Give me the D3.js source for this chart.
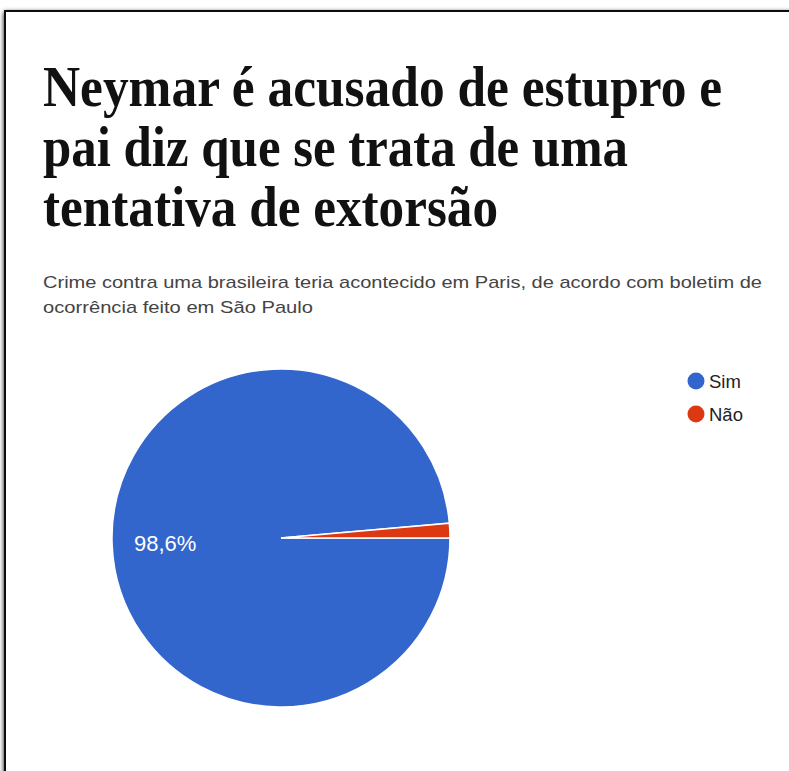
<!DOCTYPE html>
<html>
<head>
<meta charset="utf-8">
<script src="https://cdn.jsdelivr.net/npm/d3@7"></script>
<style>
  body { margin: 0; background: #fff; }
  svg { display: block; }
</style>
</head>
<body>
<div id="chart"></div>
<script>
// Data
const categories = ["Sim", "Não"];
const values = [98.6, 1.4];
const colors = ["#3366cc", "#dc3912"];
const titleLines = ["Neymar é acusado de estupro e", "pai diz que se trata de uma", "tentativa de extorsão"];
const subtitleLines = ["Crime contra uma brasileira teria acontecido em Paris, de acordo com boletim de", "ocorrência feito em São Paulo"];

const width = 789, height = 771;

const svg = d3.select("#chart")
  .append("svg")
  .attr("width", width)
  .attr("height", height);

// shadowed frame around the card
const defs = svg.append("defs");
const shadow = defs.append("filter").attr("id", "shadow")
  .attr("x", "-5%").attr("y", "-5%").attr("width", "110%").attr("height", "110%");
shadow.append("feGaussianBlur").attr("in", "SourceAlpha").attr("stdDeviation", 2.5);
shadow.append("feOffset").attr("dx", 0).attr("dy", 2).attr("result", "blur");
const merge = shadow.append("feMerge");
merge.append("feMergeNode").attr("in", "blur");
merge.append("feMergeNode").attr("in", "SourceGraphic");

svg.append("rect")
  .attr("x", 5).attr("y", 11)
  .attr("width", width + 20).attr("height", height + 20)
  .attr("fill", "#fff")
  .attr("stroke", "#111")
  .attr("stroke-width", 2)
  .attr("filter", "url(#shadow)");

// Title (fit widths to the reference lines)
const titleWidths = [679, 585, 455];
svg.append("g").selectAll("text")
  .data(titleLines)
  .join("text")
  .attr("x", 43)
  .attr("y", (d, i) => 106 + i * 60)
  .attr("font-family", "'Liberation Serif', 'DejaVu Serif', serif")
  .attr("font-weight", 700)
  .attr("font-size", 56)
  .attr("fill", "#111")
  .attr("textLength", (d, i) => titleWidths[i])
  .attr("lengthAdjust", "spacingAndGlyphs")
  .text(d => d);

// Subtitle
const subWidths = [719, 270];
svg.append("g").selectAll("text")
  .data(subtitleLines)
  .join("text")
  .attr("x", 43)
  .attr("y", (d, i) => 288 + i * 25)
  .attr("font-family", "'Liberation Sans', Arial, sans-serif")
  .attr("font-size", 17)
  .attr("fill", "#444")
  .attr("textLength", (d, i) => subWidths[i])
  .attr("lengthAdjust", "spacingAndGlyphs")
  .text(d => d);

// Pie
const cx = 281, cy = 538, radius = 169;
const pie = d3.pie()
  .sort(null)
  .startAngle(Math.PI / 2)
  .endAngle(Math.PI / 2 + 2 * Math.PI);
const arcs = pie(values);
const arc = d3.arc().innerRadius(0).outerRadius(radius);
const labelArc = d3.arc().innerRadius(116).outerRadius(116);

const gPie = svg.append("g").attr("transform", `translate(${cx},${cy})`);

gPie.selectAll("path")
  .data(arcs)
  .join("path")
  .attr("d", arc)
  .attr("fill", (d, i) => colors[i])
  .attr("stroke", "#fff")
  .attr("stroke-width", 1.5);

gPie.selectAll("text")
  .data(arcs.filter(d => d.data > 5))
  .join("text")
  .attr("transform", d => `translate(${labelArc.centroid(d)})`)
  .attr("dy", "0.36em")
  .attr("text-anchor", "middle")
  .attr("font-family", "'Liberation Sans', Arial, sans-serif")
  .attr("font-size", 22)
  .attr("fill", "#fff")
  .text(d => d3.format(".1f")(d.data).replace(".", ",") + "%");

// Legend
const legend = svg.append("g").attr("transform", "translate(696,381)");
const item = legend.selectAll("g")
  .data(categories)
  .join("g")
  .attr("transform", (d, i) => `translate(0,${i * 33})`);
item.append("circle")
  .attr("r", 8.5)
  .attr("fill", (d, i) => colors[i]);
item.append("text")
  .attr("x", 13)
  .attr("y", 6.5)
  .attr("font-family", "'Liberation Sans', Arial, sans-serif")
  .attr("font-size", 18.5)
  .attr("fill", "#222")
  .text(d => d);
</script>
</body>
</html>
